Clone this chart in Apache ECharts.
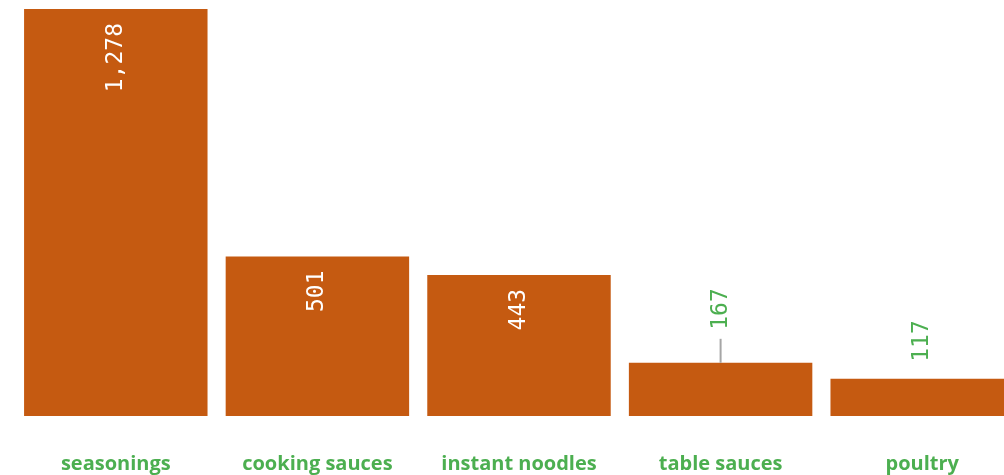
<!DOCTYPE html>
<html>
<head>
<meta charset="utf-8">
<script src="https://cdn.jsdelivr.net/npm/echarts@6/dist/echarts.min.js"></script>
<style>html,body{margin:0;padding:0;background:#fff;overflow:hidden;width:1004px;height:475px}#c{width:1023px;height:475px}</style>
</head>
<body>
<div id="c"></div>
<script>
var categories = ['seasonings', 'cooking sauces', 'instant noodles', 'table sauces', 'poultry'];
var values = [1278, 501, 443, 167, 117];
var outsideLabel = [false, false, false, true, true];
var leaderLine = [false, false, false, true, false];

var BAR = '#C55A11', GREEN = '#4CAF50';
var NUMFONT = 'DejaVu Sans Mono', NUMSIZE = 23;
var fmt = function (v) { return v.toLocaleString('en-US'); };

var data = values.map(function (v, i) {
  var item = { value: v };
  if (!outsideLabel[i]) {
    item.label = {
      show: true, position: 'insideTop', rotate: 90, align: 'right', verticalAlign: 'middle',
      distance: 14, color: '#fff', fontFamily: NUMFONT, fontSize: NUMSIZE,
      formatter: fmt(v)
    };
  } else if (leaderLine[i]) {
    item.label = {
      show: true, position: 'top', rotate: 90, align: 'left', verticalAlign: 'middle',
      distance: 0, formatter: '{l|}{v|' + fmt(v) + '}',
      rich: {
        l: { width: 24, height: 2, backgroundColor: '#A6A6A6' },
        v: { color: GREEN, fontFamily: NUMFONT, fontSize: NUMSIZE, padding: [0, 0, 0, 9] }
      }
    };
  } else {
    item.label = {
      show: true, position: 'top', rotate: 90, align: 'left', verticalAlign: 'middle',
      distance: 17, color: GREEN, fontFamily: NUMFONT, fontSize: NUMSIZE,
      formatter: fmt(v)
    };
  }
  return item;
});

var chart = echarts.init(document.getElementById('c'), null, { renderer: 'canvas' });
chart.setOption({
  animation: false,
  grid: { left: 15, top: 9, right: 0, bottom: 59, containLabel: false },
  xAxis: {
    type: 'category', data: categories,
    axisLine: { show: false }, axisTick: { show: false },
    axisLabel: { margin: 38, color: GREEN, fontFamily: 'Open Sans', fontWeight: 'bold', fontSize: 20, interval: 0 }
  },
  yAxis: { type: 'value', min: 0, max: 1278, show: false, splitLine: { show: false } },
  series: [{
    type: 'bar', data: data, barCategoryGap: '9%',
    itemStyle: { color: BAR }
  }]
});
</script>
</body>
</html>
